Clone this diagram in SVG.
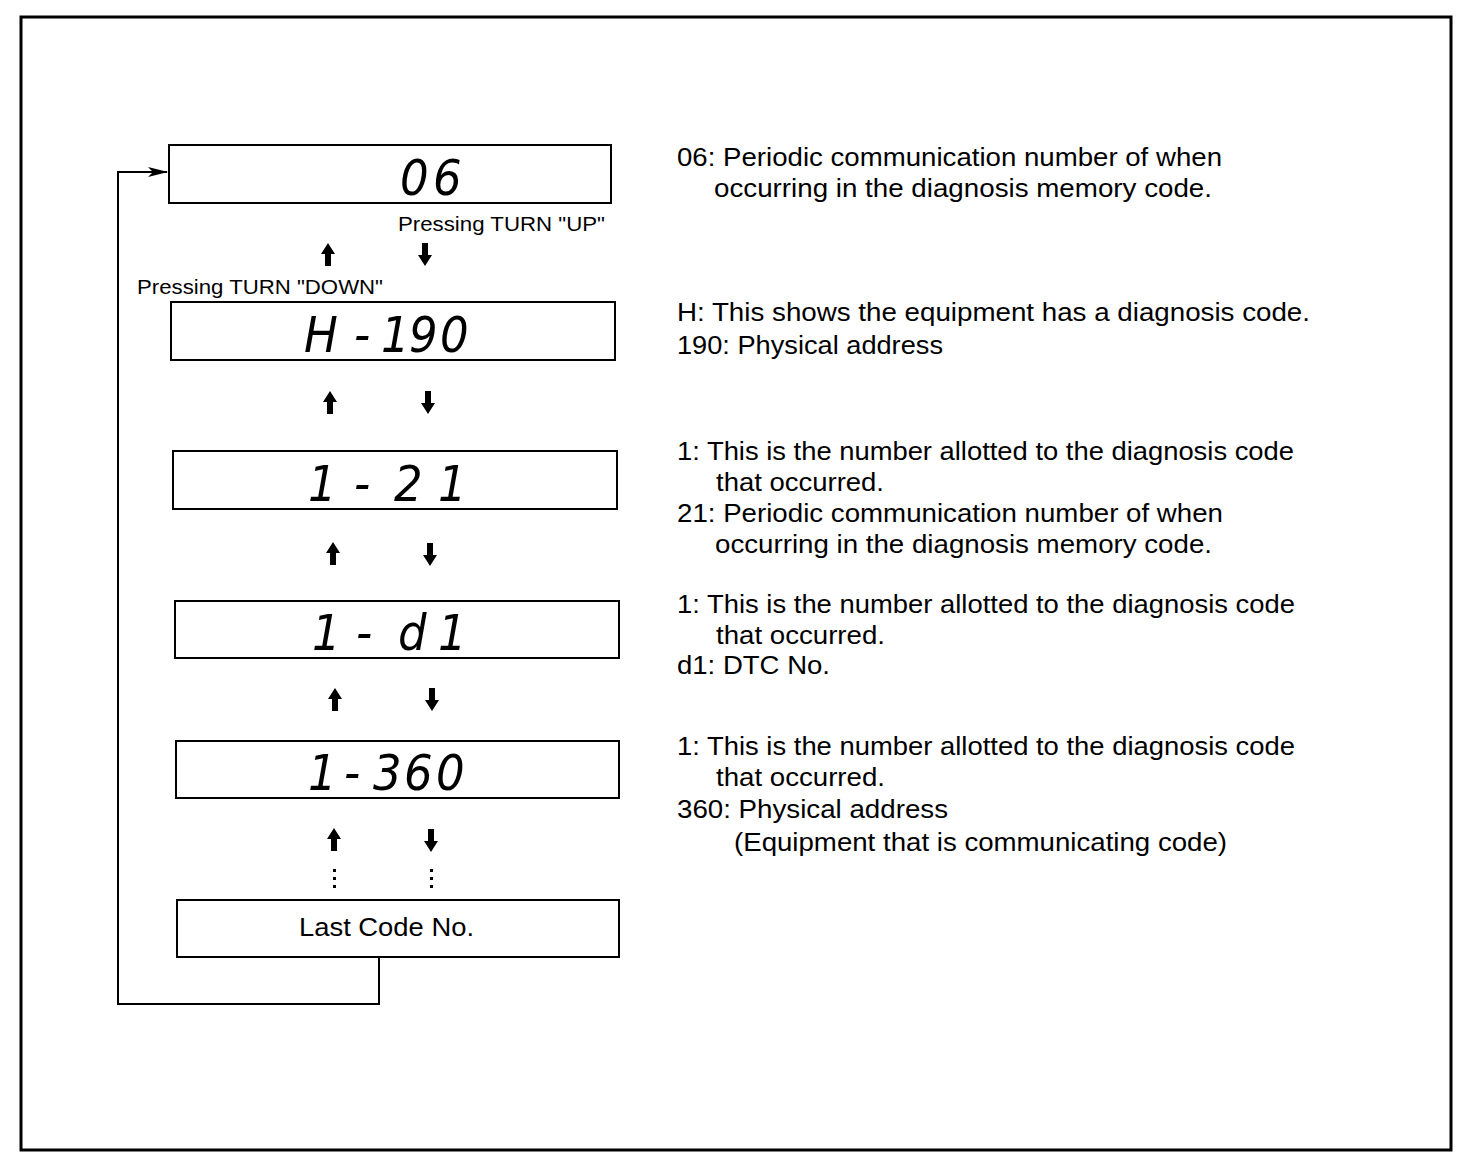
<svg xmlns="http://www.w3.org/2000/svg" xmlns:xlink="http://www.w3.org/1999/xlink" width="1472" height="1160" viewBox="0 0 1472 1160">
<style>
.frame{fill:none;stroke:#000;stroke-width:3}
.box{fill:#fff;stroke:#000;stroke-width:2}
.lcd{font-family:'DejaVu Sans Condensed','DejaVu Sans',sans-serif;font-style:oblique;font-weight:200;font-size:50px;fill:#000}
.lbl{font-family:'Liberation Sans',Arial,sans-serif;font-size:20px;fill:#000}
.desc{font-family:'Liberation Sans',Arial,sans-serif;font-size:25px;fill:#000}
.conn{fill:none;stroke:#000;stroke-width:2}
</style>
<defs>
<path id="up" d="M0,0 L7,11 L3,11 L3,23 L-3,23 L-3,11 L-7,11 Z" fill="#000"/>
<path id="dn" d="M0,0 L7,-11 L3,-11 L3,-23 L-3,-23 L-3,-11 L-7,-11 Z" fill="#000"/>
<marker id="ah" markerWidth="20" markerHeight="12" refX="19" refY="6" orient="auto" markerUnits="userSpaceOnUse">
<path d="M0,1 L20,6 L0,11 L5,6 Z" fill="#000"/>
</marker>
</defs>
<rect width="1472" height="1160" fill="#fff"/>
<rect class="frame" x="21" y="17" width="1430" height="1133"/>

<g id="connectors">
<path class="conn" d="M379,957 V1004 H118 V172 H167" marker-end="url(#ah)"/>
<use xlink:href="#up" x="328" y="243"/><use xlink:href="#dn" x="425" y="266"/>
<use xlink:href="#up" x="330" y="391"/><use xlink:href="#dn" x="428" y="414"/>
<use xlink:href="#up" x="333" y="542"/><use xlink:href="#dn" x="430" y="566"/>
<use xlink:href="#up" x="335" y="688"/><use xlink:href="#dn" x="432" y="711"/>
<use xlink:href="#up" x="334" y="828"/><use xlink:href="#dn" x="431" y="852"/>
<g fill="#000">
<rect x="333" y="869" width="3" height="3"/><rect x="333" y="877" width="3" height="3"/><rect x="333" y="885" width="3" height="3"/>
<rect x="430" y="869" width="3" height="3"/><rect x="430" y="877" width="3" height="3"/><rect x="430" y="885" width="3" height="3"/>
</g>
<text class="lbl" x="398" y="231" textLength="207" lengthAdjust="spacingAndGlyphs">Pressing TURN "UP"</text>
<text class="lbl" x="137" y="294" textLength="246" lengthAdjust="spacingAndGlyphs">Pressing TURN "DOWN"</text>
</g>

<g id="node-06">
<rect class="box" x="169" y="145" width="442" height="58"/>
<text class="lcd" x="400 433" y="195">06</text>
</g>
<g id="node-h190">
<rect class="box" x="171" y="302" width="444" height="58"/>
<text class="lcd" x="304 354 381 409 440" y="352">H-190</text>
</g>
<g id="node-1-21">
<rect class="box" x="173" y="451" width="444" height="58"/>
<text class="lcd" x="308 354 394 438" y="501">1-21</text>
</g>
<g id="node-1-d1">
<rect class="box" x="175" y="601" width="444" height="57"/>
<text class="lcd" x="312 356 398 438" y="650">1-d1</text>
</g>
<g id="node-1-360">
<rect class="box" x="176" y="741" width="443" height="57"/>
<text class="lcd" x="308 344 373 404 436" y="790">1-360</text>
</g>
<g id="node-last">
<rect class="box" x="177" y="900" width="442" height="57"/>
<text class="desc" x="299" y="936" textLength="175" lengthAdjust="spacingAndGlyphs">Last Code No.</text>
</g>

<g id="descriptions">
<text class="desc" x="677" y="166" textLength="545" lengthAdjust="spacingAndGlyphs">06: Periodic communication number of when</text>
<text class="desc" x="714" y="197" textLength="498" lengthAdjust="spacingAndGlyphs">occurring in the diagnosis memory code.</text>
<text class="desc" x="677" y="321" textLength="633" lengthAdjust="spacingAndGlyphs">H: This shows the equipment has a diagnosis  code.</text>
<text class="desc" x="677" y="354" textLength="266" lengthAdjust="spacingAndGlyphs">190: Physical address</text>
<text class="desc" x="677" y="460" textLength="617" lengthAdjust="spacingAndGlyphs">1: This is the number allotted to the diagnosis code</text>
<text class="desc" x="716" y="491" textLength="168" lengthAdjust="spacingAndGlyphs">that occurred.</text>
<text class="desc" x="677" y="522" textLength="546" lengthAdjust="spacingAndGlyphs">21: Periodic communication number of when</text>
<text class="desc" x="715" y="553" textLength="497" lengthAdjust="spacingAndGlyphs">occurring in the diagnosis memory code.</text>
<text class="desc" x="677" y="613" textLength="618" lengthAdjust="spacingAndGlyphs">1: This is the number allotted to the diagnosis code</text>
<text class="desc" x="716" y="644" textLength="169" lengthAdjust="spacingAndGlyphs">that occurred.</text>
<text class="desc" x="677" y="674" textLength="153" lengthAdjust="spacingAndGlyphs">d1: DTC No.</text>
<text class="desc" x="677" y="755" textLength="618" lengthAdjust="spacingAndGlyphs">1: This is the number allotted to the diagnosis code</text>
<text class="desc" x="716" y="786" textLength="169" lengthAdjust="spacingAndGlyphs">that occurred.</text>
<text class="desc" x="677" y="818" textLength="271" lengthAdjust="spacingAndGlyphs">360: Physical address</text>
<text class="desc" x="734" y="851" textLength="493" lengthAdjust="spacingAndGlyphs">(Equipment that is communicating code)</text>
</g>
</svg>
